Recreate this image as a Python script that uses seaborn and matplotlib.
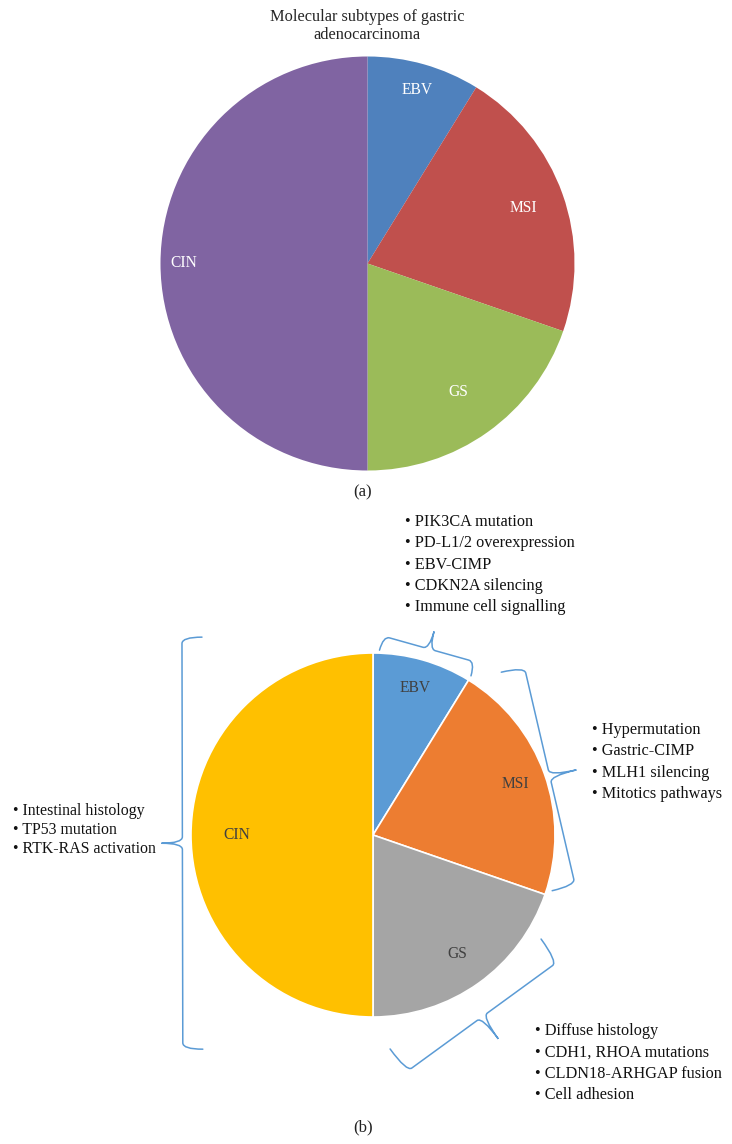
import numpy as np
import matplotlib
matplotlib.use("Agg")
import matplotlib.pyplot as plt
from matplotlib.path import Path
from matplotlib.patches import PathPatch
import seaborn as sns

# subtype shares (%), clockwise from 12 o'clock
subtypes = ["EBV", "MSI", "GS", "CIN"]
shares = [8.8, 21.5, 19.7, 50.0]

ebv_features = ["PIK3CA mutation", "PD-L1/2 overexpression", "EBV-CIMP",
                "CDKN2A silencing", "Immune cell signalling"]
msi_features = ["Hypermutation", "Gastric-CIMP", "MLH1 silencing",
                "Mitotics pathways"]
cin_features = ["Intestinal histology", "TP53 mutation", "RTK-RAS activation"]
gs_features = ["Diffuse histology", "CDH1, RHOA mutations",
               "CLDN18-ARHGAP fusion", "Cell adhesion"]

TOP_COLORS = ["#4f81bd", "#c0504d", "#9bbb59", "#8064a2"]
BOTTOM_COLORS = ["#5b9bd5", "#ed7d31", "#a5a5a5", "#ffc000"]
BRACE_COLOR = "#5b9bd5"

W, H = 732, 1144

sns.set_theme(style="white")
plt.rcParams["font.family"] = ["Liberation Serif", "DejaVu Serif"]


def px(x, y):
    return x / W, 1 - y / H


def pie_axes(fig, cx, cy, r):
    ax = fig.add_axes([(cx - r) / W, 1 - (cy + r) / H, 2 * r / W, 2 * r / H])
    return ax


def draw_pie(ax, colors, edge, label_color, label_r):
    wedges, _ = ax.pie(shares, colors=colors, startangle=90, counterclock=False,
                       wedgeprops=dict(edgecolor=edge, linewidth=1.2 if edge != "none" else 0))
    ax.set_xlim(-1, 1)
    ax.set_ylim(-1, 1)
    ax.set_aspect("equal")
    ax.axis("off")
    for w, name in zip(wedges, subtypes):
        mid = np.deg2rad((w.theta1 + w.theta2) / 2)
        rr = label_r[name]
        ax.text(rr * np.cos(mid), rr * np.sin(mid), name, ha="center", va="center",
                fontsize=11.2, color=label_color)
    return wedges


def polar_cw(angle_cw, r):
    a = np.deg2rad(90 - angle_cw)
    return np.array([r * np.cos(a), r * np.sin(a)])


def brace(ax, a, b, tip, hook, color, c=0.035):
    u = (b - a) / np.linalg.norm(b - a)
    n = np.array([u[1], -u[0]])
    m = (a + b) / 2
    if np.dot(n, m) < 0:
        n = -n
    verts = [a - n * hook, a, a + u * c,
             m - u * c, m, m + n * tip,
             m, m + u * c,
             b - u * c, b, b - n * hook]
    codes = [Path.MOVETO, Path.CURVE3, Path.CURVE3,
             Path.LINETO, Path.CURVE3, Path.CURVE3,
             Path.CURVE3, Path.CURVE3,
             Path.LINETO, Path.CURVE3, Path.CURVE3]
    ax.add_patch(PathPatch(Path(verts, codes), fill=False, edgecolor=color,
                           linewidth=1.1, clip_on=False, capstyle="round"))


def bullet_list(fig, items, x, y0, dy, size=11.7):
    for i, item in enumerate(items):
        fig.text(*px(x, y0 + i * dy), "\u2022 " + item, ha="left", va="center",
                 fontsize=size, color="#111111")


fig = plt.figure(figsize=(W / 100, H / 100), dpi=100)

# (a) classic pie
fig.text(*px(367, 26), "Molecular subtypes of gastric\nadenocarcinoma", ha="center",
         va="center", fontsize=11.75, color="#262626", linespacing=1.1)
ax_a = pie_axes(fig, 367.5, 263.5, 207)
draw_pie(ax_a, TOP_COLORS, "none", "white",
         {"EBV": 0.87, "MSI": 0.80, "GS": 0.76, "CIN": 0.89})
fig.text(*px(363, 492), "(a)", ha="center", va="center", fontsize=12, color="#222222")

# (b) pie with braces and features
ax_b = pie_axes(fig, 373, 835, 182)
wedges = draw_pie(ax_b, BOTTOM_COLORS, "white", "#404040",
                  {"EBV": 0.84, "MSI": 0.83, "GS": 0.80, "CIN": 0.75})

# brace corners: (offset from wedge start deg, radius), (offset from wedge end deg, radius), tip, hook
brace_layout = {
    "EBV": ((3.0, 1.094), (-1.2, 1.104), 0.10, 0.08),
    "MSI": ((10.3, 1.243), (-5.1, 1.145), 0.15, 0.13),
    "GS": ((15.4, 1.231), (-8.1, 1.314), 0.15, 0.155),
    "CIN": ((41.6, 1.574), (-44.0, 1.511), 0.115, 0.11),
}
for w, name in zip(wedges, subtypes):
    cw_start = (90 - w.theta2) % 360
    cw_end = cw_start + (w.theta2 - w.theta1)
    (da, ra), (db, rb), tip, hook = brace_layout[name]
    brace(ax_b, polar_cw(cw_start + da, ra), polar_cw(cw_end + db, rb), tip, hook, BRACE_COLOR)

bullet_list(fig, ebv_features, 405, 522, 21.3)
bullet_list(fig, msi_features, 592, 730, 21.3)
bullet_list(fig, cin_features, 13, 811, 19, size=11.4)
bullet_list(fig, gs_features, 535, 1031, 21.3)

fig.text(*px(363, 1127), "(b)", ha="center", va="center", fontsize=12, color="#222222")

fig.savefig("out.png", dpi=100, facecolor="white")
